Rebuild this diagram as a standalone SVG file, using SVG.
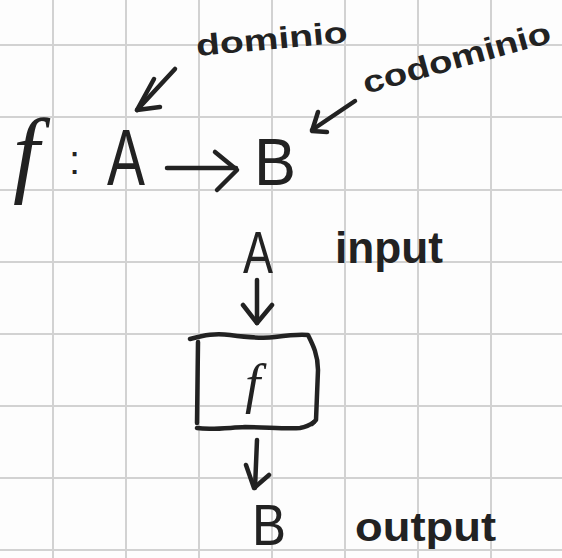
<svg xmlns="http://www.w3.org/2000/svg" width="562" height="558" viewBox="0 0 562 558">
<style>
.grid line{stroke:#d2d2d2;stroke-width:2}
.ink{fill:none;stroke:#222;stroke-width:4.5;stroke-linecap:round;stroke-linejoin:round}
.t{font-family:"Liberation Sans",Arial,sans-serif;fill:#222}
.b{font-weight:bold}
.fi{font-family:"Liberation Serif","Times New Roman",serif;font-style:italic;fill:#222}
</style>
<rect width="562" height="558" fill="#fdfdfd"/>
<g class="grid">
<line x1="53" y1="0" x2="53" y2="558"/><line x1="126" y1="0" x2="126" y2="558"/><line x1="199" y1="0" x2="199" y2="558"/><line x1="272" y1="0" x2="272" y2="558"/><line x1="345" y1="0" x2="345" y2="558"/><line x1="418" y1="0" x2="418" y2="558"/><line x1="491" y1="0" x2="491" y2="558"/>
<line x1="0" y1="45" x2="562" y2="45"/><line x1="0" y1="117" x2="562" y2="117"/><line x1="0" y1="190" x2="562" y2="190"/><line x1="0" y1="262" x2="562" y2="262"/><line x1="0" y1="334" x2="562" y2="334"/><line x1="0" y1="406" x2="562" y2="406"/><line x1="0" y1="478" x2="562" y2="478"/><line x1="0" y1="550" x2="562" y2="550"/>
</g>
<g id="formula">
<text class="fi" x="13" y="185" font-size="95">f</text>
<text class="t" x="69" y="174" font-size="40">:</text>
<text class="t" x="107" y="185" font-size="80" textLength="38" lengthAdjust="spacingAndGlyphs">A</text>
<text class="t" x="254" y="185" font-size="67" textLength="42" lengthAdjust="spacingAndGlyphs">B</text>
</g>
<g id="label-dominio">
<text class="t b" x="197" y="56" font-size="30" textLength="152" lengthAdjust="spacingAndGlyphs" transform="rotate(-5.2 197 56)">dominio</text>
</g>
<g id="label-codominio">
<text class="t b" x="366" y="94" font-size="31" textLength="194" lengthAdjust="spacingAndGlyphs" transform="rotate(-15.6 366 94)">codominio</text>
</g>
<g id="node-A">
<text class="t" x="243" y="273" font-size="60" textLength="30" lengthAdjust="spacingAndGlyphs">A</text>
</g>
<g id="label-input">
<text class="t b" x="335" y="263" font-size="44" textLength="108" lengthAdjust="spacingAndGlyphs">input</text>
</g>
<g id="node-f">
<path class="ink" d="M190,339 C205,335 215,333 230,335 C245,337 260,339 275,337 C290,335 300,334 308,335 C313,345 318,355 318,370 L316,420 L312,424"/>
<path class="ink" d="M198,342 L197,423"/>
<path class="ink" d="M197,428 C210,430 225,428 245,427 C265,427 285,429 300,428 C306,427 310,425 314,422"/>
<text class="fi" x="245" y="402" font-size="55">f</text>
</g>
<g id="node-B">
<text class="t" x="252" y="545" font-size="58" textLength="34" lengthAdjust="spacingAndGlyphs">B</text>
</g>
<g id="label-output">
<text class="t b" x="355" y="541" font-size="40" textLength="141" lengthAdjust="spacingAndGlyphs">output</text>
</g>
<g id="connectors">
<path class="ink" d="M167,168 L236,168"/>
<path class="ink" d="M215,152 L237,170 L217,190"/>
<path class="ink" d="M175,69 L137,110"/>
<path class="ink" d="M154,79 L137,110 L160,107"/>
<path class="ink" d="M355,101 L312,130"/>
<path class="ink" d="M318,112 L312,131 L327,132"/>
<path class="ink" d="M257,280 L257,323"/>
<path class="ink" d="M243,305 L257,323 L272,305"/>
<path class="ink" d="M257,440 L255,488"/>
<path class="ink" d="M246,465 L254,488 L269,475"/>
</g>
</svg>
